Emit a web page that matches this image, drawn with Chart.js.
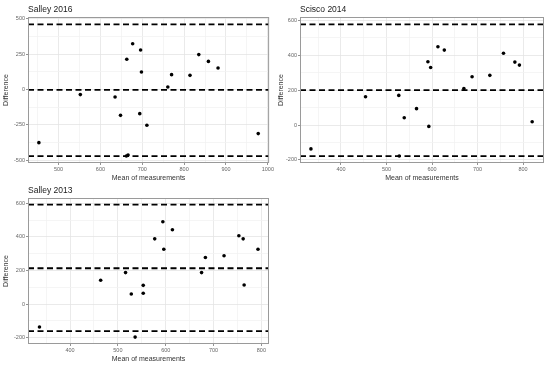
<!DOCTYPE html>
<html>
<head>
<meta charset="utf-8">
<script src="https://cdn.jsdelivr.net/npm/chart.js@4.4.0/dist/chart.umd.min.js"></script>
<style>
  body { margin: 0; background: #fff; }
  #wrap { position: relative; width: 550px; height: 368px; }
  canvas { position: absolute; }
</style>
</head>
<body>
<div id="wrap">
  <canvas id="c1" width="275" height="183" style="left:0;top:0"></canvas>
  <canvas id="c2" width="275" height="183" style="left:275px;top:0"></canvas>
  <canvas id="c3" width="275" height="185" style="left:0;top:183px"></canvas>
</div>
<script>
// Salley 2016
const salley16Mean = [453, 552, 635, 648, 663, 677, 696, 698, 694, 711, 666, 662, 761, 770, 814, 835, 858, 881, 977];
const salley16Diff = [-375, -35, -52, -182, 215, 325, 281, 125, -170, -252, -462, -470, 19, 106, 101, 248, 200, 153, -311];
const salley16Limits = [462, -2, -470];
const salley16XRange = [427, 1003];
const salley16YRange = [-519, 514];

// Scisco 2014
const scisco14Mean = [334, 454, 527, 539, 566, 528, 591, 597, 593, 613, 627, 670, 688, 727, 757, 782, 792, 820];
const scisco14Diff = [-137, 162, 170, 42, 94, -178, 363, 330, -8, 449, 430, 210, 277, 285, 412, 361, 344, 19];
const scisco14Limits = [578, 200, -178];
const scisco14XRange = [310, 846];
const scisco14YRange = [-218, 620];

// Salley 2013
const salley13Mean = [336, 464, 516, 528, 553, 553, 536, 577, 594, 596, 614, 675, 683, 722, 753, 762, 764, 793];
const salley13Diff = [-137, 141, 187, 60, 111, 64, -197, 388, 490, 326, 442, 187, 277, 287, 406, 388, 113, 326];
const salley13Limits = [591, 213, -161];
const salley13XRange = [312, 816];
const salley13YRange = [-238, 631];

Chart.defaults.font.family = '"Liberation Sans", Arial, sans-serif';

// panel border + title drawn like ggplot's theme_bw
const panelDecor = {
    id: 'panelDecor',
    afterDraw(chart, args, opts) {
        const ctx = chart.ctx;
        const a = chart.chartArea;
        ctx.save();
        ctx.strokeStyle = '#9a9a9a';
        ctx.lineWidth = 1;
        ctx.strokeRect(a.left + 0.5, a.top + 0.5, a.width - 1, a.height - 1);
        ctx.fillStyle = '#1a1a1a';
        ctx.font = '8.5px "Liberation Sans", Arial, sans-serif';
        ctx.textBaseline = 'middle';
        ctx.fillText(opts.text, a.left, opts.y);
        ctx.restore();
    }
};

function makePanel(id, title, titleY, xs, ys, limits, xRange, yRange, xStep, yStep, yWidth, pad) {
    let points = xs.map((x, i) => ({x: x, y: ys[i]}));
    let datasets = [{
        type: 'scatter',
        data: points,
        pointRadius: 1.8,
        pointBackgroundColor: '#000',
        pointBorderWidth: 0
    }];
    limits.forEach(v => {
        datasets.push({
            type: 'line',
            data: [{x: xRange[0], y: v}, {x: xRange[1], y: v}],
            borderColor: '#000',
            borderWidth: 1.8,
            borderDash: [6, 3.5],
            pointRadius: 0,
            fill: false
        });
    });

    let isMajor = (v, step) => Math.abs(v % step) < 1e-6;

    new Chart(document.getElementById(id), {
        type: 'scatter',
        data: { datasets: datasets },
        plugins: [panelDecor],
        options: {
            responsive: false,
            animation: false,
            layout: { padding: pad },
            plugins: {
                legend: { display: false },
                tooltip: { enabled: false },
                panelDecor: { text: title, y: titleY }
            },
            scales: {
                x: {
                    type: 'linear',
                    min: xRange[0],
                    max: xRange[1],
                    afterFit(s) { s.height = 20; },
                    border: { display: false },
                    grid: {
                        color: c => c.tick && isMajor(c.tick.value, xStep) ? '#e4e4e4' : '#f2f2f2',
                        lineWidth: 0.8,
                        tickLength: 2,
                        tickColor: c => c.tick && isMajor(c.tick.value, xStep) ? '#777' : 'rgba(0,0,0,0)'
                    },
                    ticks: {
                        stepSize: xStep / 2,
                        includeBounds: false,
                        autoSkip: false,
                        maxRotation: 0,
                        padding: 1,
                        color: '#666',
                        font: { size: 5.5 },
                        callback: v => isMajor(v, xStep) ? v : ''
                    },
                    title: {
                        display: true,
                        text: 'Mean of measurements',
                        color: '#333',
                        font: { size: 7 },
                        padding: { top: 0, bottom: 1 }
                    }
                },
                y: {
                    type: 'linear',
                    min: yRange[0],
                    max: yRange[1],
                    afterFit(s) { s.width = yWidth; },
                    border: { display: false },
                    grid: {
                        color: c => c.tick && isMajor(c.tick.value, yStep) ? '#e4e4e4' : '#f2f2f2',
                        lineWidth: 0.8,
                        tickLength: 2,
                        tickColor: c => c.tick && isMajor(c.tick.value, yStep) ? '#777' : 'rgba(0,0,0,0)'
                    },
                    ticks: {
                        stepSize: yStep / 2,
                        includeBounds: false,
                        autoSkip: false,
                        padding: 1,
                        color: '#666',
                        font: { size: 5.5 },
                        callback: v => isMajor(v, yStep) ? v : ''
                    },
                    title: {
                        display: true,
                        text: 'Difference',
                        color: '#333',
                        font: { size: 7 },
                        padding: { top: 2, bottom: 0 }
                    }
                }
            }
        }
    });
}

makePanel('c1', 'Salley 2016', 10, salley16Mean, salley16Diff, salley16Limits,
    salley16XRange, salley16YRange, 100, 250, 28, { top: 17, right: 5, left: 0, bottom: 0 });
makePanel('c2', 'Scisco 2014', 10, scisco14Mean, scisco14Diff, scisco14Limits,
    scisco14XRange, scisco14YRange, 100, 200, 25, { top: 17, right: 6, left: 0, bottom: 0 });
makePanel('c3', 'Salley 2013', 8, salley13Mean, salley13Diff, salley13Limits,
    salley13XRange, salley13YRange, 100, 200, 28, { top: 15, right: 6, left: 0, bottom: 4 });
</script>
</body>
</html>
